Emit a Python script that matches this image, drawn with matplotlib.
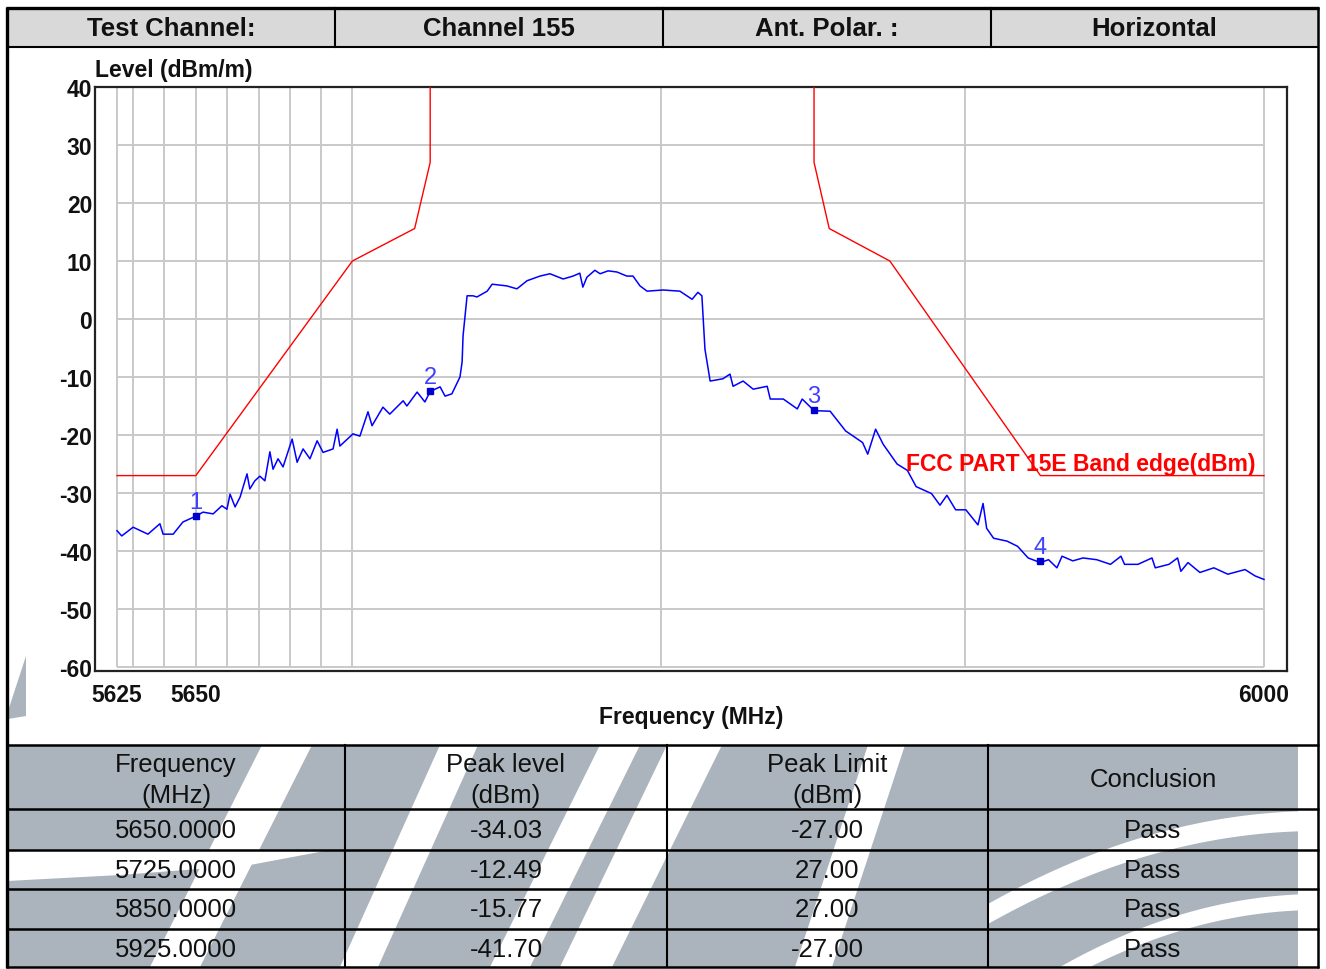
import numpy as np
import matplotlib
matplotlib.use('Agg')
import matplotlib.pyplot as plt
from matplotlib.ticker import FixedLocator, NullLocator, FixedFormatter, NullFormatter
from matplotlib.patches import Rectangle, Polygon

plt.rcParams['font.family'] = ['Liberation Sans', 'DejaVu Sans']
plt.rcParams['axes.unicode_minus'] = False

# ---------------- data ----------------
header_cells = ['Test Channel:', 'Channel 155', 'Ant. Polar. :', 'Horizontal']

trace_freq = [5625.0, 5626.5, 5630.1, 5634.8, 5638.6, 5639.6, 5642.8, 5645.9, 5650.0, 5652.3,
              5655.5, 5658.3, 5659.9, 5660.9, 5662.5, 5664.1, 5666.3, 5667.2, 5668.8, 5670.4,
              5672.0, 5673.6, 5674.6, 5676.2, 5677.8, 5680.7, 5682.3, 5684.2, 5686.4, 5688.7,
              5690.6, 5693.8, 5695.1, 5696.0, 5700.2, 5702.4, 5705.0, 5706.3, 5709.8, 5712.0,
              5716.3, 5717.5, 5720.8, 5723.3, 5725.0, 5728.2, 5729.8, 5732.0, 5734.6, 5735.3,
              5735.6, 5736.9, 5738.8, 5740.1, 5743.4, 5745.0, 5749.8, 5753.0, 5756.3, 5760.5,
              5763.7, 5768.0, 5771.2, 5773.4, 5774.4, 5775.7, 5778.3, 5780.0, 5782.6, 5785.5,
              5788.7, 5790.7, 5793.0, 5795.3, 5800.5, 5806.0, 5810.0, 5811.9, 5813.2, 5814.2,
              5815.9, 5820.1, 5822.4, 5823.4, 5826.7, 5830.0, 5834.6, 5835.6, 5839.9, 5844.5,
              5846.1, 5850.0, 5855.3, 5860.4, 5866.0, 5867.7, 5870.3, 5872.8, 5877.4, 5880.8,
              5883.7, 5888.8, 5891.6, 5893.9, 5896.8, 5900.2, 5904.2, 5905.9, 5907.1, 5909.4,
              5913.9, 5917.4, 5920.9, 5925.0, 5927.7, 5930.5, 5932.2, 5935.8, 5939.2, 5943.8,
              5948.4, 5951.9, 5953.1, 5957.6, 5962.3, 5963.4, 5968.0, 5970.9, 5972.0, 5974.4,
              5978.4, 5983.1, 5987.8, 5993.6, 5997.0, 6000.0]
trace_level = [-36.5, -37.4, -35.9, -37.1, -35.3, -37.1, -37.1, -35.0, -34.0, -33.3,
               -33.6, -32.2, -32.8, -30.2, -32.4, -30.7, -26.7, -29.3, -27.9, -27.1,
               -27.9, -22.9, -25.9, -24.1, -25.5, -20.7, -24.7, -22.4, -24.1, -21.0,
               -23.0, -22.4, -19.0, -21.9, -19.8, -20.2, -16.0, -18.4, -15.2, -16.4,
               -14.1, -15.0, -12.6, -14.3, -12.5, -11.7, -13.3, -12.9, -10.0, -7.4,
               -2.9, 4.0, 4.0, 3.8, 4.8, 6.0, 5.7, 5.2, 6.6, 7.4,
               7.8, 6.9, 7.4, 7.9, 5.5, 7.2, 8.4, 7.8, 8.3, 8.1,
               7.4, 7.4, 5.7, 4.8, 5.0, 4.8, 3.4, 4.6, 4.0, -5.2,
               -10.7, -10.3, -9.5, -11.6, -10.7, -12.1, -11.6, -13.8, -13.8, -15.5,
               -13.8, -15.8, -15.9, -19.3, -21.3, -23.3, -19.0, -21.6, -25.0, -26.1,
               -28.9, -30.1, -32.1, -30.4, -32.9, -32.9, -35.5, -31.8, -36.1, -37.8,
               -38.3, -39.2, -41.2, -42.0, -41.5, -42.9, -40.9, -41.7, -41.2, -41.5,
               -42.3, -40.9, -42.3, -42.3, -41.2, -42.9, -42.3, -41.2, -43.5, -42.0,
               -43.7, -42.9, -44.0, -43.2, -44.3, -44.9]

limit_left_freq = [5625, 5650, 5700, 5720, 5725, 5725]
limit_left_level = [-27, -27, 10, 15.6, 27, 40]
limit_right_freq = [5850, 5850, 5855, 5875, 5925, 6000]
limit_right_level = [40, 27, 15.6, 10, -27, -27]
limit_name = 'FCC PART 15E Band edge(dBm)'

marker_freq = [5650.0, 5725.0, 5850.0, 5925.0]
marker_level = [-34.03, -12.49, -15.77, -41.70]
marker_labels = ['1', '2', '3', '4']
marker_limit = [-27.00, 27.00, 27.00, -27.00]
marker_result = ['Pass', 'Pass', 'Pass', 'Pass']

grid_freq = [5625, 5630, 5640, 5650, 5660, 5670, 5680, 5690, 5700, 5800, 5900, 6000]
grid_level = [-60, -50, -40, -30, -20, -10, 0, 10, 20, 30, 40]
xtick_vals = [5625, 5650, 6000]
xtick_labels = ['5625', '5650', '6000']
ytick_vals = [40, 30, 20, 10, 0, -10, -20, -30, -40, -50, -60]

table_headers = ['Frequency\n(MHz)', 'Peak level\n(dBm)', 'Peak Limit\n(dBm)', 'Conclusion']

# ---------------- figure ----------------
W, H = 1326, 970
fig = plt.figure(figsize=(W / 100, H / 100), dpi=100)
fig.patch.set_facecolor('white')

bg = fig.add_axes([0, 0, 1, 1], zorder=0)
bg.set_xlim(0, W)
bg.set_ylim(H, 0)
bg.axis('off')

TXT = '#111111'
GRAY = '#abb4bc'

# ---- background watermark (decorative swooshes) ----
bg.add_patch(Rectangle((7, 746), 1311, 222, facecolor=GRAY, edgecolor='none', zorder=0.5))
bg.add_patch(Polygon([(26, 657), (26, 717), (8, 720), (8, 712)], closed=True,
                     facecolor=GRAY, edgecolor='none', zorder=0.5))
white_shapes = [
    [(262, 746), (312, 746), (200, 968), (150, 968)],
    [(440, 746), (478, 746), (378, 968), (340, 968)],
    [(600, 746), (640, 746), (530, 968), (490, 968)],
    [(667, 746), (722, 746), (612, 968), (560, 968)],
    [(868, 746), (905, 746), (832, 968), (795, 968)],
    [(7, 851), (330, 851), (250, 866), (120, 876), (7, 882)],
]
for pts in white_shapes:
    bg.add_patch(Polygon(pts, closed=True, facecolor='white', edgecolor='none', zorder=0.6))
# arcs in the last column
for (x0, y0, x1, y1, wdt) in [(988, 905, 1318, 812, 20), (1060, 968, 1318, 895, 16)]:
    tt = np.linspace(0, 1, 40)
    xs = x0 + (x1 - x0) * tt
    ys = y0 + (y1 - y0) * (1 - (1 - tt) ** 2)
    poly = list(zip(xs, ys)) + list(zip(xs[::-1], ys[::-1] + wdt))
    bg.add_patch(Polygon(poly, closed=True, facecolor='white', edgecolor='none', zorder=0.6))
bg.add_patch(Rectangle((1298, 746), 20, 222, facecolor='white', edgecolor='none', zorder=0.6))

# ---- header row ----
hx = [7, 335, 663, 991, 1318]
bg.add_patch(Rectangle((7, 9), 1311, 39, facecolor='#d9d9d9', edgecolor='none', zorder=1))
bg.plot([6, 1319], [9, 9], color='black', lw=2.4, zorder=3, solid_capstyle='butt')
bg.plot([6, 1319], [48, 48], color='black', lw=1.5, zorder=3, solid_capstyle='butt')
for x in hx[1:-1]:
    bg.plot([x, x], [9, 48], color='black', lw=1.5, zorder=3)
for i, t in enumerate(header_cells):
    bg.text((hx[i] + hx[i + 1]) / 2, 29, t, ha='center', va='center',
            fontsize=18.5, fontweight='bold', color=TXT, zorder=4)

# outer border
bg.plot([7, 7], [8, 969], color='black', lw=2.4, zorder=3, solid_capstyle='butt')
bg.plot([1318, 1318], [8, 969], color='black', lw=1.8, zorder=3, solid_capstyle='butt')

# ---- table ----
tx = [7, 345, 667, 988, 1318]
ty = [746, 810, 851, 890, 930, 968]
for y in ty:
    bg.plot([6, 1319], [y, y], color='black', lw=1.8, zorder=3, solid_capstyle='butt')
for x in tx[1:-1]:
    bg.plot([x, x], [746, 968], color='black', lw=1.5, zorder=3)

for i, t in enumerate(table_headers):
    cx = (tx[i] + tx[i + 1]) / 2
    if '\n' in t:
        a, b = t.split('\n')
        bg.text(cx, 765, a, ha='center', va='center', fontsize=18.5, color=TXT, zorder=4)
        bg.text(cx, 796, b, ha='center', va='center', fontsize=18.5, color=TXT, zorder=4)
    else:
        bg.text(cx, 780, t, ha='center', va='center', fontsize=18.5, color=TXT, zorder=4)

row_cy = [831, 871, 910, 950]
for r in range(4):
    vals = [f'{marker_freq[r]:.4f}', f'{marker_level[r]:.2f}', f'{marker_limit[r]:.2f}', marker_result[r]]
    for c in range(4):
        cx = (tx[c] + tx[c + 1]) / 2
        bg.text(cx, row_cy[r], vals[c], ha='center', va='center', fontsize=18.5, color=TXT, zorder=4)

# ---- chart ----
L, R, T, B = 95, 1287, 88, 672
ax = fig.add_axes([L / W, 1 - B / H, (R - L) / W, (B - T) / H], zorder=2)
ax.set_xscale('log')
px_per_dec = 40922.0
xlo = 10 ** (np.log10(5625) - (117 - L) / px_per_dec)
xhi = 10 ** (np.log10(6000) + (R - 1264) / px_per_dec)
ax.set_xlim(xlo, xhi)
ax.set_ylim(-60 - (B - 668) / 5.8, 40)

ax.vlines(grid_freq, -60, 40, color='#c9c9c9', lw=1.4, zorder=1)
ax.hlines(grid_level, 5625, 6000, color='#c9c9c9', lw=1.4, zorder=1)

ax.plot(limit_left_freq, limit_left_level, color='#ff0000', lw=1.0, zorder=3)
ax.plot(limit_right_freq, limit_right_level, color='#ff0000', lw=1.0, zorder=3)
ax.plot(trace_freq, trace_level, color='#0000ff', lw=1.1, zorder=4)
ax.plot(marker_freq, marker_level, 's', color='#0000cc', ms=4.5, zorder=5)
for f, v, lab in zip(marker_freq, marker_level, marker_labels):
    ax.annotate(lab, (f, v), xytext=(0, 6), textcoords='offset points', ha='center',
                va='baseline', fontsize=17, color='#4040ff', zorder=6)

ax.text(1256 / W, 1 - 464 / H, limit_name, transform=fig.transFigure, ha='right', va='center',
        fontsize=16.5, fontweight='bold', color='#ff0000', zorder=6)

ax.xaxis.set_major_locator(FixedLocator(xtick_vals))
ax.xaxis.set_minor_locator(NullLocator())
ax.xaxis.set_major_formatter(FixedFormatter(xtick_labels))
ax.xaxis.set_minor_formatter(NullFormatter())
ax.set_yticks(ytick_vals)
ax.tick_params(axis='both', length=0, labelsize=16.5, labelcolor=TXT)
ax.tick_params(axis='x', pad=8.5)
ax.tick_params(axis='y', pad=2)
for lab in ax.get_xticklabels() + ax.get_yticklabels():
    lab.set_fontweight('bold')
for sp in ax.spines.values():
    sp.set_color('#222222')
    sp.set_linewidth(1.6)

bg.text(95, 71, 'Level (dBm/m)', ha='left', va='center', fontsize=16.5,
        fontweight='bold', color=TXT)
bg.text(691, 718, 'Frequency (MHz)', ha='center', va='center', fontsize=16.5,
        fontweight='bold', color=TXT)

fig.savefig('out.png', dpi=100)
